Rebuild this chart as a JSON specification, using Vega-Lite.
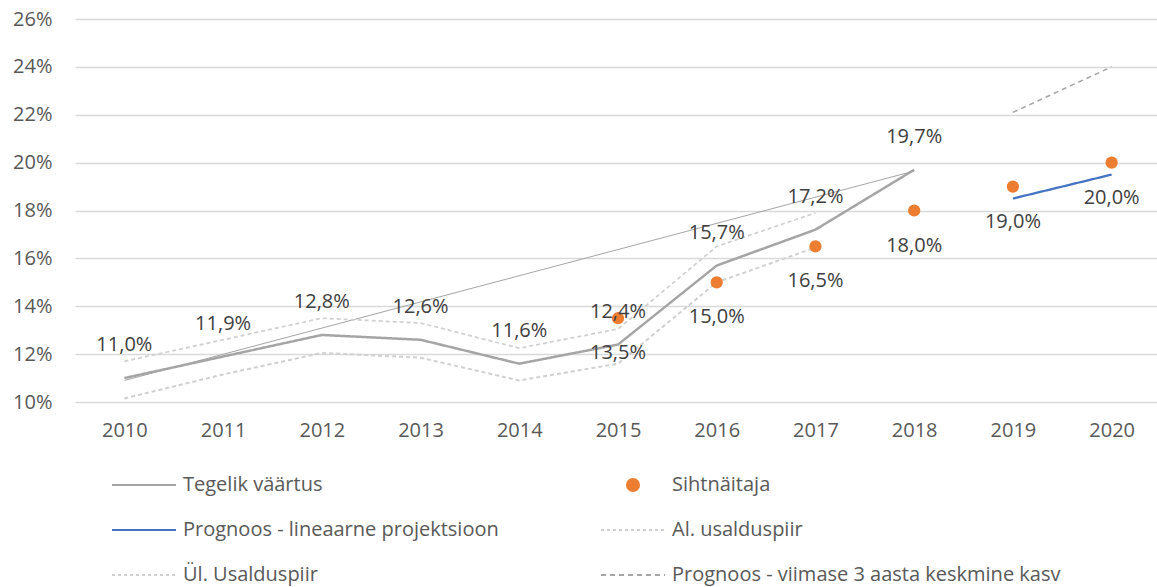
{
  "$schema": "https://vega.github.io/schema/vega-lite/v6.json",
  "width": 1086,
  "height": 383,
  "autosize": {"type": "none"},
  "padding": {"left": 75, "top": 19, "right": 0, "bottom": 185},
  "background": "white",
  "config": {
    "view": {"stroke": null},
    "font": "Open Sans",
    "locale": {"number": {"decimal": ",", "thousands": " ", "grouping": [3], "currency": ["", " €"]}}
  },
  "data": {
    "values": [
      {"year": "2010", "series": "Tegelik väärtus", "value": 0.110},
      {"year": "2011", "series": "Tegelik väärtus", "value": 0.119},
      {"year": "2012", "series": "Tegelik väärtus", "value": 0.128},
      {"year": "2013", "series": "Tegelik väärtus", "value": 0.126},
      {"year": "2014", "series": "Tegelik väärtus", "value": 0.116},
      {"year": "2015", "series": "Tegelik väärtus", "value": 0.124},
      {"year": "2016", "series": "Tegelik väärtus", "value": 0.157},
      {"year": "2017", "series": "Tegelik väärtus", "value": 0.172},
      {"year": "2018", "series": "Tegelik väärtus", "value": 0.197},
      {"year": "2010", "series": "Trend", "value": 0.109},
      {"year": "2018", "series": "Trend", "value": 0.1965},
      {"year": "2015", "series": "Sihtnäitaja", "value": 0.135},
      {"year": "2016", "series": "Sihtnäitaja", "value": 0.150},
      {"year": "2017", "series": "Sihtnäitaja", "value": 0.165},
      {"year": "2018", "series": "Sihtnäitaja", "value": 0.180},
      {"year": "2019", "series": "Sihtnäitaja", "value": 0.190},
      {"year": "2020", "series": "Sihtnäitaja", "value": 0.200},
      {"year": "2019", "series": "Prognoos - lineaarne projektsioon", "value": 0.185},
      {"year": "2020", "series": "Prognoos - lineaarne projektsioon", "value": 0.195},
      {"year": "2010", "series": "Al. usalduspiir", "value": 0.1015},
      {"year": "2011", "series": "Al. usalduspiir", "value": 0.1115},
      {"year": "2012", "series": "Al. usalduspiir", "value": 0.1205},
      {"year": "2013", "series": "Al. usalduspiir", "value": 0.1185},
      {"year": "2014", "series": "Al. usalduspiir", "value": 0.109},
      {"year": "2015", "series": "Al. usalduspiir", "value": 0.116},
      {"year": "2016", "series": "Al. usalduspiir", "value": 0.150},
      {"year": "2017", "series": "Al. usalduspiir", "value": 0.1645},
      {"year": "2010", "series": "Ül. Usalduspiir", "value": 0.117},
      {"year": "2011", "series": "Ül. Usalduspiir", "value": 0.126},
      {"year": "2012", "series": "Ül. Usalduspiir", "value": 0.135},
      {"year": "2013", "series": "Ül. Usalduspiir", "value": 0.133},
      {"year": "2014", "series": "Ül. Usalduspiir", "value": 0.1225},
      {"year": "2015", "series": "Ül. Usalduspiir", "value": 0.1305},
      {"year": "2016", "series": "Ül. Usalduspiir", "value": 0.165},
      {"year": "2017", "series": "Ül. Usalduspiir", "value": 0.179},
      {"year": "2019", "series": "Prognoos - viimase 3 aasta keskmine kasv", "value": 0.221},
      {"year": "2020", "series": "Prognoos - viimase 3 aasta keskmine kasv", "value": 0.240}
    ]
  },
  "encoding": {
    "x": {
      "field": "year", "type": "ordinal",
      "scale": {"type": "point", "padding": 0.5},
      "axis": {"title": null, "labelAngle": 0, "labelFontSize": 20, "labelColor": "#595959", "labelFont": "Open Sans", "domain": false, "ticks": false, "labelPadding": 18, "grid": false}
    },
    "y": {
      "field": "value", "type": "quantitative",
      "scale": {"domain": [0.10, 0.26], "nice": false, "zero": false},
      "axis": {"title": null, "format": ".0%", "values": [0.10, 0.12, 0.14, 0.16, 0.18, 0.20, 0.22, 0.24, 0.26], "labelFontSize": 20, "labelColor": "#595959", "labelFont": "Open Sans", "domain": false, "ticks": false, "labelPadding": 23, "gridColor": "#D9D9D9", "gridWidth": 1.5}
    }
  },
  "layer": [
    {
      "transform": [{"filter": "datum.series === 'Trend'"}],
      "mark": {"type": "line", "color": "#A5A5A5", "strokeWidth": 1},
      "encoding": {}
    },
    {
      "transform": [{"filter": "datum.series !== 'Trend' && datum.series !== 'Sihtnäitaja'"}],
      "mark": {"type": "line"},
      "encoding": {
        "color": {
          "field": "series", "type": "nominal",
          "scale": {
            "domain": ["Tegelik väärtus", "Prognoos - lineaarne projektsioon", "Ül. Usalduspiir", "Sihtnäitaja", "Al. usalduspiir", "Prognoos - viimase 3 aasta keskmine kasv"],
            "range": ["#A5A5A5", "#4472C4", "#D0D0D0", "#ED7D31", "#D0D0D0", "#A5A5A5"]
          },
          "legend": {
            "orient": "none", "legendX": 36, "legendY": 433, "columns": 2, "title": null,
            "symbolType": "stroke", "symbolSize": 4096, "symbolStrokeWidth": 2, "symbolOffset": 0,
            "labelFontSize": 20, "labelFont": "Open Sans", "labelColor": "#595959", "labelLimit": 600, "labelOffset": 6,
            "columnPadding": 98, "rowPadding": 2, "padding": 0,
            "encode": {
              "symbols": {
                "update": {
                  "shape": {"signal": "datum.value === 'Sihtnäitaja' ? 'circle' : 'stroke'"},
                  "size": {"signal": "datum.value === 'Sihtnäitaja' ? 144 : 4096"},
                  "fill": {"signal": "datum.value === 'Sihtnäitaja' ? '#ED7D31' : 'transparent'"},
                  "stroke": {"signal": "datum.value === 'Sihtnäitaja' ? 'transparent' : scale('color', datum.value)"},
                  "strokeWidth": {"value": 2},
                  "strokeDash": {"signal": "(datum.value === 'Al. usalduspiir' || datum.value === 'Ül. Usalduspiir') ? [3,3] : datum.value === 'Prognoos - viimase 3 aasta keskmine kasv' ? [5,4] : []"},
                  "opacity": {"value": 1}
                }
              }
            }
          }
        },
        "strokeDash": {
          "field": "series", "type": "nominal",
          "scale": {
            "domain": ["Tegelik väärtus", "Prognoos - lineaarne projektsioon", "Al. usalduspiir", "Ül. Usalduspiir", "Prognoos - viimase 3 aasta keskmine kasv"],
            "range": [[1, 0], [1, 0], [4, 3], [4, 3], [5, 4]]
          },
          "legend": null
        },
        "strokeWidth": {
          "field": "series", "type": "nominal",
          "scale": {
            "domain": ["Tegelik väärtus", "Prognoos - lineaarne projektsioon", "Al. usalduspiir", "Ül. Usalduspiir", "Prognoos - viimase 3 aasta keskmine kasv"],
            "range": [2.5, 1.5, 2, 2, 2.5]
          },
          "legend": null
        }
      }
    },
    {
      "transform": [{"filter": "datum.series === 'Sihtnäitaja'"}],
      "mark": {"type": "point", "filled": true, "opacity": 1, "size": 150, "shape": "circle"},
      "encoding": {
        "color": {"field": "series", "type": "nominal"}
      }
    },
    {
      "transform": [{"filter": "datum.series === 'Tegelik väärtus'"}],
      "mark": {"type": "text", "dy": -33, "fontSize": 20, "font": "Open Sans", "color": "#404040", "baseline": "middle"},
      "encoding": {"text": {"field": "value", "type": "quantitative", "format": ".1%"}}
    },
    {
      "transform": [{"filter": "datum.series === 'Sihtnäitaja'"}],
      "mark": {"type": "text", "dy": 35, "fontSize": 20, "font": "Open Sans", "color": "#404040", "baseline": "middle"},
      "encoding": {"text": {"field": "value", "type": "quantitative", "format": ".1%"}}
    }
  ]
}
